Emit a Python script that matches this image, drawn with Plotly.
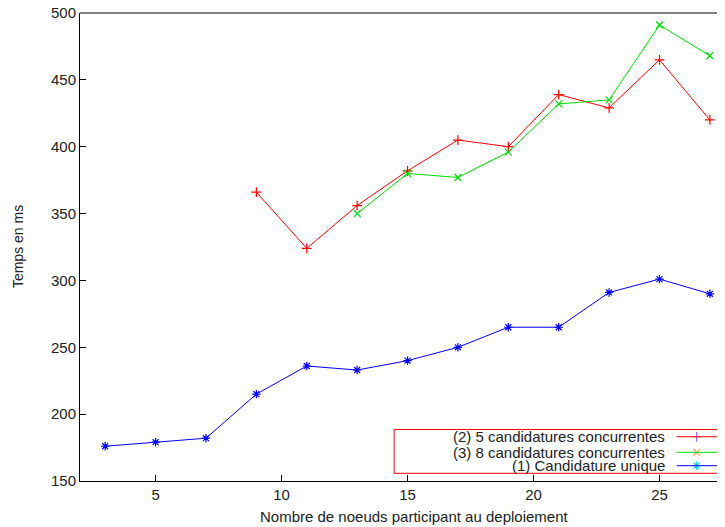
import plotly.graph_objects as go

# nombre de noeuds
x_unique = [3, 5, 7, 9, 11, 13, 15, 17, 19, 21, 23, 25, 27]
y_unique = [176, 179, 182, 215, 236, 233, 240, 250, 265, 265, 291, 301, 290]

x_cinq = [9, 11, 13, 15, 17, 19, 21, 23, 25, 27]
y_cinq = [366, 324, 356, 382, 405, 400, 439, 429, 465, 420]

x_huit = [13, 15, 17, 19, 21, 23, 25, 27]
y_huit = [350, 380, 377, 396, 432, 435, 491, 468]

labels = ["(2) 5 candidatures concurrentes",
          "(3) 8 candidatures concurrentes",
          "(1) Candidature unique"]
colors = ["#ff0000", "#00dd00", "#0000ff"]
symbols = ["cross-thin-open", "x-thin-open", "asterisk-open"]

FONT = "Liberation Sans, Arial, sans-serif"

fig = go.Figure()
series = [(x_cinq, y_cinq), (x_huit, y_huit), (x_unique, y_unique)]
for (xs, ys), col, sym in zip(series, colors, symbols):
    fig.add_trace(go.Scatter(
        x=xs, y=ys, mode="lines+markers",
        line=dict(color=col, width=1),
        marker=dict(symbol=sym, size=7, line=dict(color=col, width=1.2)),
        showlegend=False,
    ))

# legende facon gnuplot (texte a droite, echantillon apres)
rows_y = [0.0946, 0.0613, 0.0327]
for lab, col, sym, ry in zip(labels, colors, symbols, rows_y):
    fig.add_annotation(xref="paper", yref="paper", x=0.9096, y=ry,
                       text=lab, showarrow=False, xanchor="right",
                       yanchor="middle", font=dict(family=FONT, size=15, color="#222"))
    fig.add_shape(type="line", xref="paper", yref="paper",
                  x0=0.925, x1=0.997, y0=ry, y1=ry,
                  line=dict(color=col, width=1))
    fig.add_trace(go.Scatter(
        x=[0.956], y=[ry], xaxis="x2", yaxis="y2", mode="markers",
        marker=dict(symbol=sym, size=7, line=dict(color=col, width=1.2)),
        showlegend=False, hoverinfo="skip"))

fig.add_shape(type="rect", xref="paper", yref="paper",
              x0=0.487, x1=1.02, y0=0.0165, y1=0.110,
              line=dict(color="#ff0000", width=1))

# la page a une marge de 8px, on decale tout
fig.update_layout(
    width=725, height=527,
    margin=dict(l=72, r=8, t=5, b=54),
    paper_bgcolor="white", plot_bgcolor="white",
    font=dict(family=FONT, size=15, color="#222"),
    xaxis=dict(range=[2, 27.6], tickvals=[5, 10, 15, 20, 25],
               ticks="inside", ticklen=6, tickcolor="black",
               ticklabeloverflow="allow", automargin=False,
               showline=True, linecolor="black", linewidth=1,
               mirror=False, showgrid=False, zeroline=False),
    yaxis=dict(range=[150, 500], tickvals=[150, 200, 250, 300, 350, 400, 450, 500],
               ticks="inside", ticklen=6, tickcolor="black",
               ticklabeloverflow="allow", automargin=False,
               showline=True, linecolor="black", linewidth=1,
               mirror=False, showgrid=False, zeroline=False),
    xaxis2=dict(overlaying="x", range=[0, 1], visible=False, automargin=False),
    yaxis2=dict(overlaying="y", range=[0, 1], visible=False, automargin=False),
    annotations=list(fig.layout.annotations) + [
        dict(xref="paper", yref="paper", x=0.519, y=-0.0748, text="Nombre de noeuds participant au deploiement",
             showarrow=False, xanchor="center", yanchor="middle", font=dict(family=FONT, size=15, color="#222")),
        dict(xref="paper", yref="paper", x=-0.096, y=0.5, text="Temps en ms", textangle=-90,
             showarrow=False, xanchor="center", yanchor="middle", font=dict(family=FONT, size=14, color="#222")),
    ],
)

# bordure superieure
fig.add_shape(type="line", xref="paper", yref="paper", x0=0, x1=1, y0=1, y1=1,
              line=dict(color="black", width=1))

fig.write_html("out.html")
